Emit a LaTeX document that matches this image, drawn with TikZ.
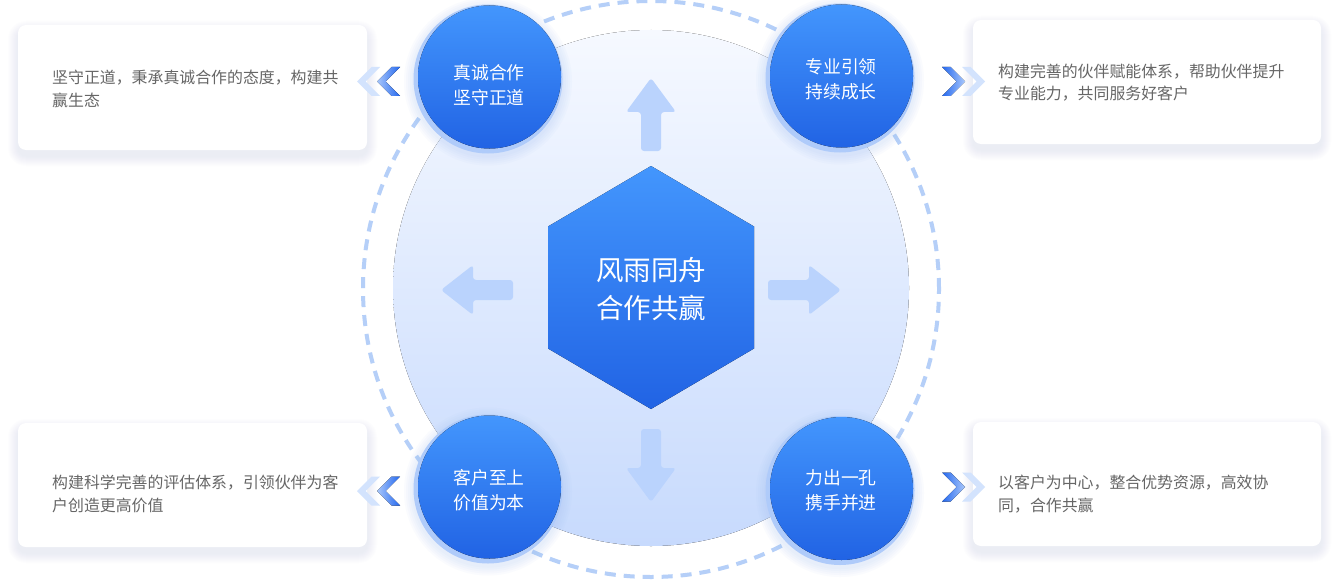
\documentclass[tikz,border=0pt]{standalone}
\usepackage{fontspec}
\setmainfont{Noto Sans CJK SC}
\definecolor{bluetop}{HTML}{4396FD}
\definecolor{bluebot}{HTML}{2163E4}
\definecolor{ringc}{HTML}{AFCBFA}
\definecolor{glowc}{HTML}{9DBDF5}
\definecolor{arrowc}{HTML}{BAD3FD}
\definecolor{dashc}{HTML}{B5CFF8}
\definecolor{bigtop}{HTML}{F6F9FF}
\definecolor{bigbot}{HTML}{C7DAFD}
\definecolor{txtgray}{HTML}{666666}
\definecolor{chevlight}{HTML}{D3E3FD}
\definecolor{chevmid}{HTML}{A9C7FB}
\definecolor{chevdark}{HTML}{2468EE}
\definecolor{shadc}{HTML}{C3C7F2}
\tikzset{
  arrowshape/.style={fill=arrowc, rounded corners=3pt},
  boxtext/.style={text=txtgray, font=\fontsize{15.9}{22.5}\selectfont, align=left, inner sep=0pt, anchor=west},
  circtext/.style={text=white, font=\fontsize{17.8}{25}\selectfont, align=center, inner sep=0pt},
  hextext/.style={text=white, font=\fontsize{27.5}{38}\selectfont, align=center, inner sep=0pt},
  cardbox/.style={fill=white, rounded corners=8pt},
}
\begin{document}
\begin{tikzpicture}[x=1pt,y=-1pt]
\useasboundingbox (0,0) rectangle (1340,583);
\fill[white] (0,0) rectangle (1340,583);
% dashed orbit
\draw[dashc, line width=4pt, dash pattern=on 11pt off 8pt] (651,289) circle[radius=288pt];
% big light disc
\fill[top color=bigtop, bottom color=bigbot] (651,288) circle[radius=258pt];
% arrows
\fill[arrowshape] (651,78) -- (676,112) -- (661,112) -- (661,151) -- (641,151) -- (641,112) -- (626,112) -- cycle;
\fill[arrowshape] (651,502) -- (676,468) -- (661,468) -- (661,429) -- (641,429) -- (641,468) -- (626,468) -- cycle;
\fill[arrowshape] (441,290) -- (473,265) -- (473,280) -- (513,280) -- (513,300) -- (473,300) -- (473,315) -- cycle;
\fill[arrowshape] (841,290) -- (809,265) -- (809,280) -- (768,280) -- (768,300) -- (809,300) -- (809,315) -- cycle;
% hexagon
\fill[top color=bluetop, bottom color=bluebot] (651,166) -- (754,226.5) -- (754,348.5) -- (651,409) -- (548,348.5) -- (548,226.5) -- cycle;
\node[hextext] (hex) at (651,289) {风雨同舟\\合作共赢};
% cards with soft shadows
\foreach \xa/\ya/\xb/\yb in {18/25/367/150, 973/20/1321/144, 18/423/367/547, 973/422/1321/546}{
  \foreach \i in {0,...,10}{
    \pgfmathsetmacro\rr{8+\i}
    \fill[shadc, opacity=0.022, rounded corners=\rr pt] (\xa-\i,\ya-\i+6) rectangle (\xb+\i,\yb+\i+6);
  }
  \fill[cardbox] (\xa,\ya) rectangle (\xb,\yb);
}
\node[boxtext] (t1) at (52,89) {坚守正道，秉承真诚合作的态度，构建共\\赢生态};
\node[boxtext] (t2) at (998,82.5) {构建完善的伙伴赋能体系，帮助伙伴提升\\专业能力，共同服务好客户};
\node[boxtext] (t3) at (52,494) {构建科学完善的评估体系，引领伙伴为客\\户创造更高价值};
\node[boxtext] (t4) at (998,494) {以客户为中心，整合优势资源，高效协\\同，合作共赢};
% chevrons, left pointing (x0 = tip)
\foreach \cy in {81.5,491}{
  \fill[chevlight] (357,\cy) -- (371.5,\cy-14.5) -- (380,\cy-14.5) -- (365.5,\cy) -- (380,\cy+14.5) -- (371.5,\cy+14.5) -- cycle;
  \fill[left color=chevmid, right color=chevdark] (377,\cy) -- (391.5,\cy-14.5) -- (400,\cy-14.5) -- (385.5,\cy) -- (400,\cy+14.5) -- (391.5,\cy+14.5) -- cycle;
}
% chevrons, right pointing (x1 = tip)
\foreach \cy in {81.5,487}{
  \fill[chevlight] (985,\cy) -- (970.5,\cy-14.5) -- (962,\cy-14.5) -- (976.5,\cy) -- (962,\cy+14.5) -- (970.5,\cy+14.5) -- cycle;
  \fill[left color=chevdark, right color=chevmid] (965,\cy) -- (950.5,\cy-14.5) -- (942,\cy-14.5) -- (956.5,\cy) -- (942,\cy+14.5) -- (950.5,\cy+14.5) -- cycle;
}
% four circles
\foreach \cx/\cy in {489/77.5, 841/76.5, 489/487.5, 841/489}{
  \foreach \r in {76,78,80,82,84}{
    \fill[glowc, opacity=0.05] (\cx-1,\cy+4) circle[radius=\r pt];
  }
  \fill[ringc] (\cx-1,\cy+1.5) circle[radius=74.5pt];
  \fill[top color=bluetop, bottom color=bluebot] (\cx+0.5,\cy-0.5) circle[radius=71.5pt];
}
\node[circtext] (c1) at (489,85.5) {真诚合作\\坚守正道};
\node[circtext] (c2) at (841,79.5) {专业引领\\持续成长};
\node[circtext] (c3) at (489,490) {客户至上\\价值为本};
\node[circtext] (c4) at (841,490.5) {力出一孔\\携手并进};
\end{tikzpicture}
\end{document}
